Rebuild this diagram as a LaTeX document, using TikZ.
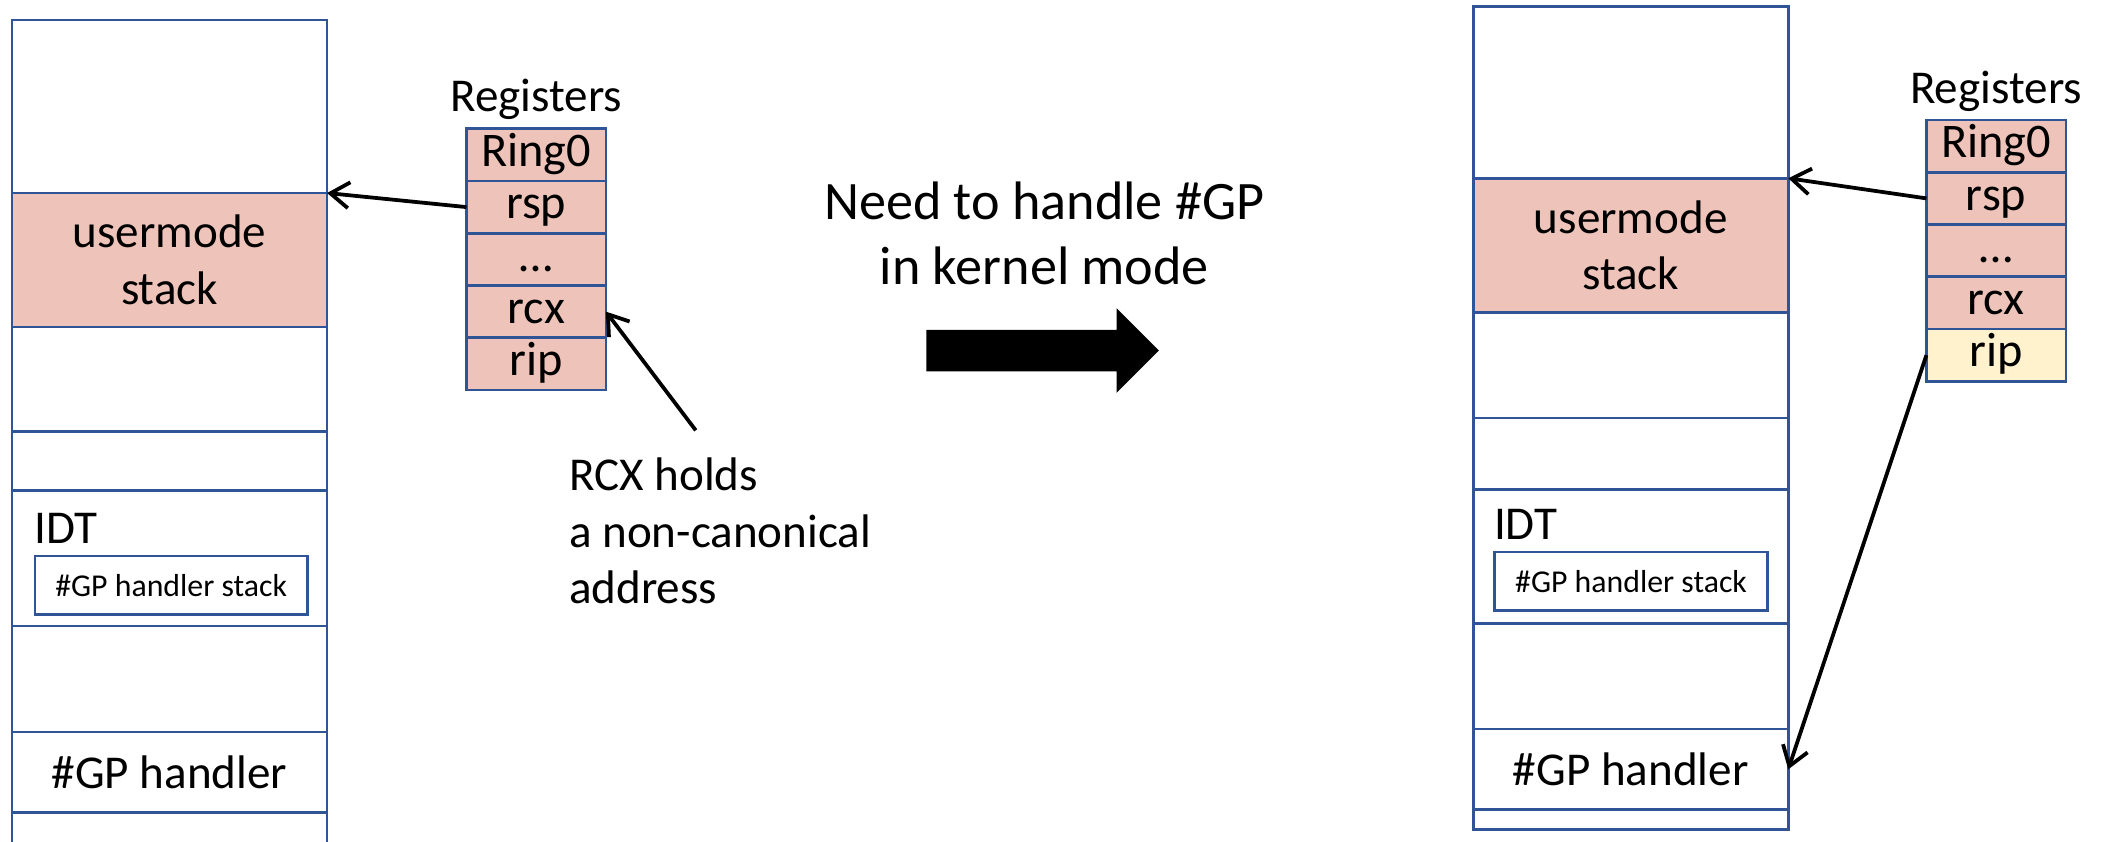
\documentclass[tikz,border=0pt]{standalone}
\usepackage{color}
\usepackage{tikz}
\usepackage{fontspec}
\setmainfont{Carlito}
\usetikzlibrary{positioning,arrows.meta}

\definecolor{memblue}{RGB}{47,85,151}
\definecolor{stackpink}{RGB}{238,196,186}
\definecolor{ripyellow}{RGB}{255,242,204}

\begin{document}
\begin{tikzpicture}[x=0.02cm,y=-0.02cm,>={Straight Barb[length=8pt,width=11pt]},
	semithick]
	
	\tikzstyle{cell}=[draw=memblue,line width=1.1pt,minimum width=4.7cm,inner sep=0pt,outer sep=0pt,align=center,font=\fontsize{20}{24}\selectfont]
	\tikzstyle{reg}=[draw=memblue,fill=stackpink,line width=1.1pt,minimum width=2.08cm,minimum height=0.78cm,inner sep=0pt,outer sep=0pt,text height=14pt,text depth=4pt,font=\fontsize{20.5}{24}\selectfont]
	\tikzstyle{inbox}=[draw=memblue,line width=1.1pt,minimum width=4.07cm,minimum height=0.87cm,inner sep=0pt,font=\fontsize{13.5}{16}\selectfont]
	\tikzstyle{lbl}=[inner sep=0pt,font=\fontsize{20}{24}\selectfont]
	\tikzstyle{ptr}=[->,line width=1.6pt]
	
	\useasboundingbox (0,0) rectangle (1568,628);
	
	% memory before
	\node[cell,minimum height=2.58cm,anchor=north west] (L1) at (9,15) {};
	\node[cell,minimum height=2cm,fill=stackpink,below=0pt of L1] (L2) {usermode\\stack};
	\node[cell,minimum height=1.56cm,below=0pt of L2] (L3) {};
	\node[cell,minimum height=0.88cm,below=0pt of L3] (L4) {};
	\node[cell,minimum height=2.02cm,below=0pt of L4] (L5) {};
	\node[cell,minimum height=1.58cm,below=0pt of L5] (L6) {};
	\node[cell,minimum height=1.2cm,below=0pt of L6] (L7) {\#GP handler};
	\node[cell,minimum height=0.6cm,below=0pt of L7] (L8) {};
	\node[inbox,below right=0.96cm and 0.32cm of L5.north west] (gpsL) {\#GP handler stack};
	\node[lbl,above right=0.16cm and 0cm of gpsL.north west] (idtL) {IDT};
	
	% registers before
	\node[reg,anchor=north west] (regL1) at (348,96) {Ring0};
	\node[reg,below=0pt of regL1] (regL2) {rsp};
	\node[reg,below=0pt of regL2] (regL3) {…};
	\node[reg,below=0pt of regL3] (regL4) {rcx};
	\node[reg,below=0pt of regL4] (regL5) {rip};
	\node[lbl,above=0.12cm of regL1] (regsL) {Registers};
	
	\node[lbl,anchor=north west,align=left] (rcxnote) at (424,341) {RCX holds\\a non-canonical\\address};
	\coordinate (rcxtail) at (519,321);
	
	% middle
	\node[lbl,anchor=north,align=center,font=\fontsize{23}{27.5}\selectfont] (why) at (779,135) {Need to handle \#GP\\in kernel mode};
	\fill (691,246) -- (833,246) -- (833,230) -- (864.5,261.5) -- (833,293) -- (833,277) -- (691,277) -- cycle;
	
	% memory after
	\node[cell,minimum height=2.56cm,anchor=north west] (R1) at (1099,5) {};
	\node[cell,minimum height=2cm,fill=stackpink,below=0pt of R1] (R2) {usermode\\stack};
	\node[cell,minimum height=1.58cm,below=0pt of R2] (R3) {};
	\node[cell,minimum height=1.06cm,below=0pt of R3] (R4) {};
	\node[cell,minimum height=2cm,below=0pt of R4] (R5) {};
	\node[cell,minimum height=1.58cm,below=0pt of R5] (R6) {};
	\node[cell,minimum height=1.2cm,below=0pt of R6] (R7) {\#GP handler};
	\node[cell,minimum height=0.3cm,below=0pt of R7] (R8) {};
	\node[inbox,below right=0.92cm and 0.3cm of R5.north west] (gpsR) {\#GP handler stack};
	\node[lbl,above right=0.16cm and 0cm of gpsR.north west] (idtR) {IDT};
	
	% registers after
	\node[reg,anchor=north west] (regR1) at (1437,89.5) {Ring0};
	\node[reg,below=0pt of regR1] (regR2) {rsp};
	\node[reg,below=0pt of regR2] (regR3) {…};
	\node[reg,below=0pt of regR3] (regR4) {rcx};
	\node[reg,fill=ripyellow,below=0pt of regR4] (regR5) {rip};
	\node[lbl,above=0.12cm of regR1] (regsR) {Registers};
	
	\path (regL2.west) edge [ptr] (L2.north east)
	(rcxtail) edge [ptr] (regL4.east)
	(regR2.west) edge [ptr] (R2.north east)
	(regR5.west) edge [ptr] (R7.east);
\end{tikzpicture}
\end{document}
